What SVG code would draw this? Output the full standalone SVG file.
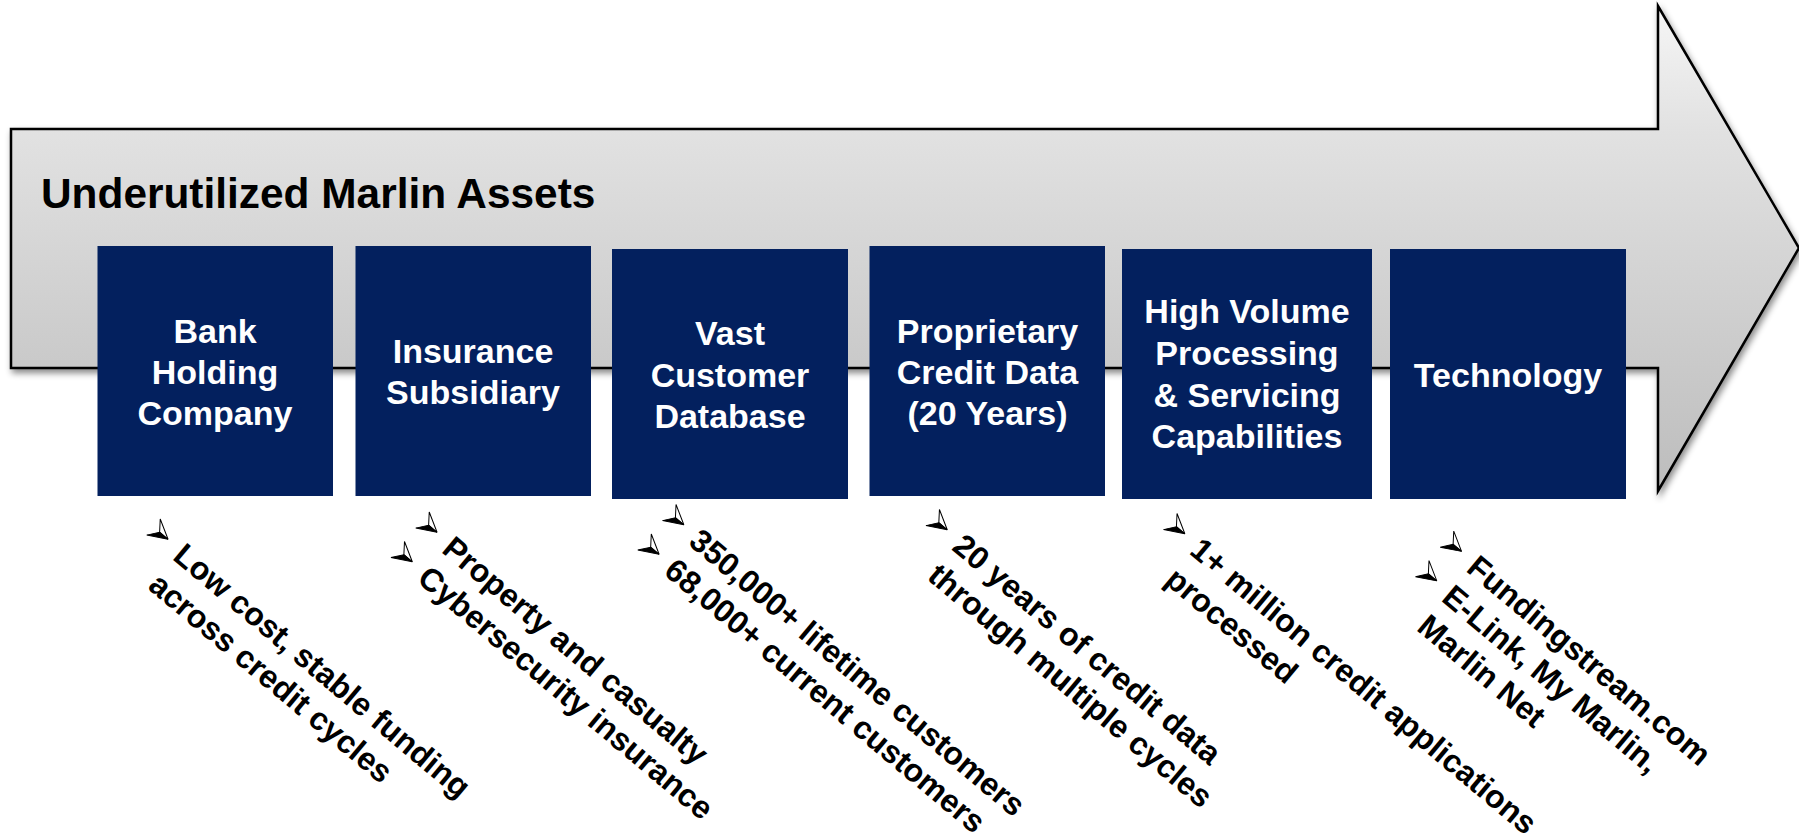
<svg xmlns="http://www.w3.org/2000/svg" xmlns:xlink="http://www.w3.org/1999/xlink" width="1799" height="835" viewBox="0 0 1799 835">
  <style>
    .arrow-body { fill: url(#arrowFill); stroke: #000; stroke-width: 2.5; stroke-linejoin: miter; filter: url(#softShadow); }
    .title { font-family: "Liberation Sans", Arial, sans-serif; font-weight: bold; font-size: 42.4px; fill: #000; }
    .box { fill: #03205E; }
    .box-label { font-family: "Liberation Sans", Arial, sans-serif; font-weight: bold; font-size: 34px; fill: #fff; text-anchor: middle; }
    .note { font-family: "Liberation Sans", Arial, sans-serif; font-weight: bold; font-size: 32px; fill: #000; }
  </style>
  <defs>
    <linearGradient id="arrowFill" x1="0" y1="0" x2="0" y2="1">
      <stop offset="0" stop-color="#f6f6f6"/>
      <stop offset="0.25" stop-color="#e2e2e2"/>
      <stop offset="0.75" stop-color="#c9c9c9"/>
      <stop offset="1" stop-color="#bdbdbd"/>
    </linearGradient>
    <filter id="softShadow" x="-5%" y="-5%" width="110%" height="115%">
      <feDropShadow dx="2" dy="4" stdDeviation="3" flood-color="#000" flood-opacity="0.45"/>
    </filter>
    <!-- 3D dart bullet, tip at the origin, pointing along +x -->
    <g id="bullet">
      <path d="M0,0 L-19,-10.5 L-11,0 Z" fill="#fff" stroke="#000" stroke-width="1"/>
      <path d="M0,0 L-19,10.5 L-11,0 Z" fill="#000" stroke="#000" stroke-width="1"/>
    </g>
  </defs>

  <rect width="1799" height="835" fill="#fff"/>

  <!-- backdrop arrow -->
  <g id="timeline-arrow">
    <path class="arrow-body" d="M11,129 L1658,129 L1658,6 L1799,248 L1658,491 L1658,368 L11,368 Z"/>
    <text class="title" x="41" y="208">Underutilized Marlin Assets</text>
  </g>

  <g id="connectors"/>

  <g id="node-bank">
    <rect class="box" x="97.5" y="246" width="235.5" height="250"/>
    <text class="box-label" x="215" y="343">Bank</text>
    <text class="box-label" x="215" y="384">Holding</text>
    <text class="box-label" x="215" y="425">Company</text>
    <g transform="translate(171.5,558.5) rotate(40)">
      <use href="#bullet" x="-15" y="-12.5"/>
      <text class="note" x="0" y="0">Low cost, stable funding</text>
      <text class="note" x="0" y="38.5">across credit cycles</text>
    </g>
  </g>

  <g id="node-insurance">
    <rect class="box" x="355.5" y="246" width="235.5" height="250"/>
    <text class="box-label" x="473" y="363">Insurance</text>
    <text class="box-label" x="473" y="404">Subsidiary</text>
    <g transform="translate(440.5,551.5) rotate(40)">
      <use href="#bullet" x="-15" y="-12.5"/>
      <use href="#bullet" x="-15" y="26"/>
      <text class="note" x="0" y="0">Property and casualty</text>
      <text class="note" x="0" y="38.5">Cybersecurity insurance</text>
    </g>
  </g>

  <g id="node-database">
    <rect class="box" x="612" y="249" width="236" height="250"/>
    <text class="box-label" x="730" y="345">Vast</text>
    <text class="box-label" x="730" y="386.5">Customer</text>
    <text class="box-label" x="730" y="428">Database</text>
    <g transform="translate(687.3,544) rotate(40)">
      <use href="#bullet" x="-15" y="-12.5"/>
      <use href="#bullet" x="-15" y="26"/>
      <text class="note" x="0" y="0">350,000+ lifetime customers</text>
      <text class="note" x="0" y="38.5">68,000+ current customers</text>
    </g>
  </g>

  <g id="node-credit-data">
    <rect class="box" x="869.5" y="246" width="235.5" height="250"/>
    <text class="box-label" x="987.5" y="343">Proprietary</text>
    <text class="box-label" x="987.5" y="384">Credit Data</text>
    <text class="box-label" x="987.5" y="425">(20 Years)</text>
    <g transform="translate(950.7,549) rotate(40)">
      <use href="#bullet" x="-15" y="-12.5"/>
      <text class="note" x="0" y="0">20 years of credit data</text>
      <text class="note" x="0" y="38.5">through multiple cycles</text>
    </g>
  </g>

  <g id="node-processing">
    <rect class="box" x="1122" y="249" width="250" height="250"/>
    <text class="box-label" x="1247" y="323">High Volume</text>
    <text class="box-label" x="1247" y="365">Processing</text>
    <text class="box-label" x="1247" y="407">&amp; Servicing</text>
    <text class="box-label" x="1247" y="448">Capabilities</text>
    <g transform="translate(1188.3,553) rotate(40)">
      <use href="#bullet" x="-15" y="-12.5"/>
      <text class="note" x="0" y="0">1+ million credit applications</text>
      <text class="note" x="0" y="38.5">processed</text>
    </g>
  </g>

  <g id="node-technology">
    <rect class="box" x="1390" y="249" width="236" height="250"/>
    <text class="box-label" x="1508" y="387">Technology</text>
    <g transform="translate(1465,570.6) rotate(40)">
      <use href="#bullet" x="-15" y="-12.5"/>
      <use href="#bullet" x="-15" y="26"/>
      <text class="note" x="0" y="0">Fundingstream.com</text>
      <text class="note" x="0" y="38.5">E-Link, My Marlin,</text>
      <text class="note" x="0" y="77">Marlin Net</text>
    </g>
  </g>
</svg>
